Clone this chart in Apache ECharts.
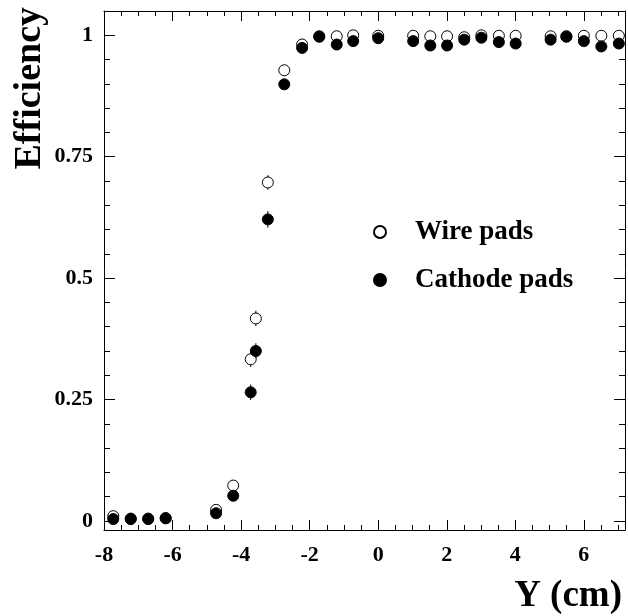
<!DOCTYPE html>
<html>
<head>
<meta charset="utf-8">
<script src="https://cdn.jsdelivr.net/npm/echarts@6/dist/echarts.min.js"></script>
<style>
  html, body { margin: 0; padding: 0; background: #fff; }
  #chart { width: 628px; height: 616px; }
</style>
</head>
<body>
<div id="chart"></div>
<script>
// Pad positions along Y (cm), shared by both readouts
const positions = [-7.73, -7.22, -6.71, -6.2, -4.73, -4.23, -3.72, -3.57, -3.22, -2.74,
  -2.22, -1.72, -1.21, -0.73, 0, 1.02, 1.52, 2.01, 2.51, 3.01, 3.52, 4.01, 5.03, 5.49,
  6.0, 6.51, 7.02];

// Efficiency measured on wire pads
const wireEff = [0.010, 0.005, 0.005, 0.006, 0.023, 0.073, 0.333, 0.417, 0.697, 0.928,
  0.981, 0.998, 0.998, 1.0, 0.999, 0.999, 0.998, 0.998, 0.996, 1.0, 0.999, 0.999, 0.998,
  0.998, 0.999, 0.999, 0.999];
const wireErr = [0.004, 0.004, 0.004, 0.004, 0.005, 0.006, 0.016, 0.016, 0.015, 0.008,
  0.004, 0.003, 0.003, 0.002, 0.002, 0.002, 0.002, 0.002, 0.003, 0.002, 0.002, 0.002, 0.002,
  0.002, 0.002, 0.002, 0.002];

// Efficiency measured on cathode pads
const cathodeEff = [0.004, 0.004, 0.004, 0.0055, 0.016, 0.052, 0.265, 0.350, 0.621, 0.899,
  0.974, 0.997, 0.981, 0.988, 0.994, 0.988, 0.979, 0.979, 0.991, 0.995, 0.986, 0.983, 0.991,
  0.997, 0.988, 0.977, 0.983];
const cathodeErr = [0.003, 0.003, 0.003, 0.003, 0.005, 0.007, 0.016, 0.016, 0.017, 0.009,
  0.005, 0.003, 0.004, 0.004, 0.003, 0.004, 0.004, 0.004, 0.003, 0.003, 0.004, 0.004, 0.003,
  0.003, 0.004, 0.005, 0.004];

// Tick labels
const xTickValues = [-8, -6, -4, -2, 0, 2, 4, 6];
const yTickValues = [0, 0.25, 0.5, 0.75, 1];

const FONT = '"Liberation Serif", "Times New Roman", serif';

const toPoints = (ys) => positions.map((x, i) => [x, ys[i]]);
const toErr = (ys, es) => positions.map((x, i) => [x, ys[i] - es[i], ys[i] + es[i]]);

const errorBars = (name, data) => ({
  type: 'custom',
  name: name + ' err',
  silent: true,
  z: 1,
  data: data,
  renderItem: (params, api) => {
    const lo = api.coord([api.value(0), api.value(1)]);
    const hi = api.coord([api.value(0), api.value(2)]);
    return {
      type: 'line',
      shape: { x1: lo[0], y1: lo[1], x2: hi[0], y2: hi[1] },
      style: { stroke: '#000', lineWidth: 1 }
    };
  }
});

const axisCommon = {
  axisLine: { show: true, onZero: false, lineStyle: { color: '#000', width: 1 } },
  splitLine: { show: false }
};

const chart = echarts.init(document.getElementById('chart'), null, { renderer: 'canvas' });

chart.setOption({
  animation: false,
  backgroundColor: '#fff',
  grid: { left: 104, right: 3, top: 11, bottom: 86, containLabel: false },
  xAxis: [
    Object.assign({
      type: 'value', min: -8, max: 7.2, interval: 2, position: 'bottom',
      axisTick: { show: true, inside: true, length: 10, lineStyle: { color: '#000' } },
      minorTick: { show: true, splitNumber: 4, length: 5, lineStyle: { color: '#000' } },
      axisLabel: {
        show: true, margin: 14, showMaxLabel: false,
        color: '#000', fontFamily: FONT, fontWeight: 'bold', fontSize: 22,
        formatter: (v) => xTickValues.includes(v) ? String(v) : ''
      }
    }, axisCommon),
    Object.assign({
      type: 'value', min: -8, max: 7.2, interval: 2, position: 'top',
      axisTick: { show: true, inside: true, length: 10, lineStyle: { color: '#000' } },
      minorTick: { show: true, splitNumber: 4, length: 5, lineStyle: { color: '#000' } },
      axisLabel: { show: false }
    }, axisCommon)
  ],
  yAxis: [
    Object.assign({
      type: 'value', min: -0.0185, max: 1.05, minInterval: 0.25, maxInterval: 0.25,
      position: 'left',
      axisTick: { show: true, inside: true, length: 11, lineStyle: { color: '#000' } },
      minorTick: { show: true, splitNumber: 5, length: 6, lineStyle: { color: '#000' } },
      axisLabel: {
        show: true, margin: 11, showMinLabel: false, showMaxLabel: false,
        color: '#000', fontFamily: FONT, fontWeight: 'bold', fontSize: 22,
        formatter: (v) => yTickValues.some(t => Math.abs(t - v) < 1e-9) ? String(v) : ''
      }
    }, axisCommon),
    Object.assign({
      type: 'value', min: -0.0185, max: 1.05, minInterval: 0.25, maxInterval: 0.25,
      position: 'right',
      axisTick: { show: true, inside: true, length: 11, lineStyle: { color: '#000' } },
      minorTick: { show: true, splitNumber: 5, length: 6, lineStyle: { color: '#000' } },
      axisLabel: { show: false }
    }, axisCommon)
  ],
  legend: {
    orient: 'vertical',
    left: 368,
    top: 212,
    itemWidth: 12,
    itemHeight: 12,
    itemGap: 18,
    icon: 'circle',
    data: ['Wire pads', 'Cathode pads'],
    textStyle: {
      color: '#000', fontFamily: FONT, fontWeight: 'bold', fontSize: 27,
      lineHeight: 30, padding: [0, 0, 0, 24]
    }
  },
  graphic: [
    {
      type: 'text', x: 30, y: 7, rotation: Math.PI / 2,
      style: {
        text: 'Efficiency', fill: '#000',
        font: 'bold 38px ' + FONT, textAlign: 'right', textVerticalAlign: 'middle'
      }
    },
    {
      type: 'text', x: 622, y: 596,
      style: {
        text: 'Y (cm)', fill: '#000',
        font: 'bold 37px ' + FONT, textAlign: 'right', textVerticalAlign: 'middle'
      }
    }
  ],
  series: [
    errorBars('Wire pads', toErr(wireEff, wireErr)),
    errorBars('Cathode pads', toErr(cathodeEff, cathodeErr)),
    {
      type: 'scatter', name: 'Wire pads', z: 2,
      symbol: 'circle', symbolSize: 11,
      itemStyle: { color: '#fff', borderColor: '#000', borderWidth: 1, opacity: 1 },
      data: toPoints(wireEff)
    },
    {
      type: 'scatter', name: 'Cathode pads', z: 3,
      symbol: 'circle', symbolSize: 11,
      itemStyle: { color: '#000', borderColor: '#000', borderWidth: 1, opacity: 1 },
      data: toPoints(cathodeEff)
    }
  ]
});
</script>
</body>
</html>
